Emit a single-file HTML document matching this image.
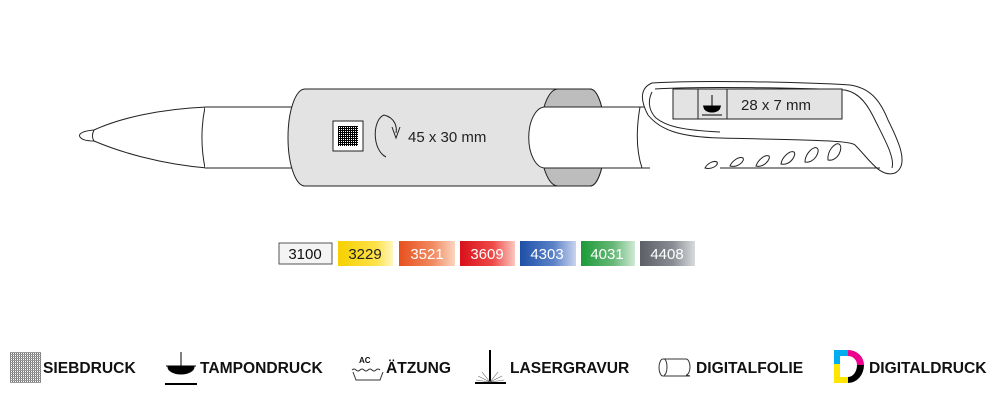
<!DOCTYPE html>
<html><head><meta charset="utf-8"><style>
body{margin:0;background:#fff;width:1000px;height:400px;overflow:hidden;font-family:"Liberation Sans",Arial,sans-serif}
</style></head><body>
<svg width="1000" height="400" viewBox="0 0 1000 400" xmlns="http://www.w3.org/2000/svg">
<defs>
<linearGradient id="gy" x1="0" x2="1"><stop offset="0" stop-color="#f5d000"/><stop offset=".7" stop-color="#ffe24a"/><stop offset="1" stop-color="#fff6c0"/></linearGradient>
<linearGradient id="go" x1="0" x2="1"><stop offset="0" stop-color="#e8501e"/><stop offset=".6" stop-color="#f08a60"/><stop offset="1" stop-color="#fbd5c0"/></linearGradient>
<linearGradient id="gr" x1="0" x2="1"><stop offset="0" stop-color="#d8101a"/><stop offset=".6" stop-color="#ee4a48"/><stop offset="1" stop-color="#fbc8c0"/></linearGradient>
<linearGradient id="gb" x1="0" x2="1"><stop offset="0" stop-color="#1e50a8"/><stop offset=".6" stop-color="#5b82c8"/><stop offset="1" stop-color="#c8d4ee"/></linearGradient>
<linearGradient id="gg" x1="0" x2="1"><stop offset="0" stop-color="#1c9a38"/><stop offset=".6" stop-color="#68b878"/><stop offset="1" stop-color="#d0ead4"/></linearGradient>
<linearGradient id="gs" x1="0" x2="1"><stop offset="0" stop-color="#5c6066"/><stop offset=".6" stop-color="#8a8e94"/><stop offset="1" stop-color="#d8dadc"/></linearGradient>
<pattern id="grid" width="2" height="2" patternUnits="userSpaceOnUse"><rect width="2" height="2" fill="#fff"/><rect width="1" height="2" fill="#000"/><rect width="2" height="1" fill="#000"/></pattern>
<pattern id="grid2" width="2" height="2" patternUnits="userSpaceOnUse"><rect width="2" height="2" fill="#fff"/><rect width="1" height="2" fill="#777"/><rect width="2" height="1" fill="#999"/></pattern>
</defs>
<g stroke="#222" stroke-width="1" fill="#fff">
<path d="M207,107 C160,109 120,118 94,130 C82,131 78,134 80,137 C82,140 88,141 94,141 C120,152 160,164 207,168 Z"/>
<path d="M94,130 C92,134 92,138 94,141" fill="none"/>
<path d="M205,107 C201,127 201,148 205,168" fill="none"/>
<rect x="205" y="107" width="445" height="61" stroke="none"/>
<line x1="205" y1="107" x2="650" y2="107"/><line x1="205" y1="168" x2="650" y2="168"/>
<path d="M652,83 C700,80 800,82 850,85 C870,88 880,100 888,120 C898,140 910,165 895,173 C880,178 870,160 855,145 C850,140 800,140 720,138 C680,137 660,130 648,115 C640,100 640,88 652,83 Z"/>
<path d="M655,89 C700,86 800,88 845,90 C860,93 868,105 876,122 C885,140 895,158 892,168" fill="none"/>
<path d="M652,92 C648,100 648,110 656,118 C666,126 680,130 720,132" fill="none"/>
<path d="M640,107 C636,130 636,150 642,168" fill="none"/>
<line x1="720" y1="168" x2="880" y2="168"/>
</g>
<g stroke="#222" fill="#fff">
<path d="M705,168 c2,-4 8,-8 12,-6 c2,3 -5,8 -12,6z"/>
<path d="M730,166 c2,-5 9,-10 13,-8 c2,3 -5,10 -13,8z"/>
<path d="M756,166 c2,-6 9,-12 13,-10 c2,3 -5,12 -13,10z"/>
<path d="M781,164 c1,-7 9,-14 13,-12 c3,3 -4,14 -13,12z"/>
<path d="M805,162 c0,-8 8,-16 12,-14 c4,3 -3,16 -12,14z"/>
<path d="M828,160 c-1,-9 7,-18 11,-16 c5,3 -1,18 -11,16z"/>
</g>
<rect x="673" y="89" width="169" height="30" fill="#e3e3e3" stroke="#222"/>
<rect x="698" y="89" width="29" height="30" fill="#e3e3e3" stroke="#222"/>
<g stroke="#000" fill="#000"><line x1="712" y1="95" x2="712" y2="106"/><line x1="703" y1="106" x2="721" y2="106"/><path d="M704,107 h16 a8,5 0 0 1 -16,0z"/><line x1="702" y1="115" x2="722" y2="115"/></g>
<text x="741" y="110" font-size="15" fill="#222">28 x 7 mm</text>
<!-- sleeve -->
<path d="M305,89 H590 A15,48.5 0 0 1 590,186 H305 A17,48.5 0 0 1 305,89 Z" fill="#e3e3e3" stroke="#222"/>
<path d="M558,89 A18,48.5 0 0 0 558,186 H590 A15,48.5 0 0 0 590,89 Z" fill="#bdbdbd" stroke="#222"/>
<path d="M545,107 H612 V168 H545 A16,30 0 0 1 545,107 Z" fill="#fff" stroke="none"/>
<path d="M545,107 A16,30 0 0 0 545,168" fill="none" stroke="#222"/>
<line x1="545" y1="107" x2="640" y2="107" stroke="#222"/><line x1="545" y1="168" x2="640" y2="168" stroke="#222"/>
<rect x="333" y="121" width="30" height="30" fill="#fff" stroke="#222"/>
<rect x="338" y="126" width="20" height="20" fill="url(#grid)"/>
<path d="M384,115 C372,120 372,150 386,157" fill="none" stroke="#222"/>
<path d="M384,115 C396,118 397,128 396,133 M392,127 L396,138 L400,127" fill="none" stroke="#222"/>
<text x="408" y="142" font-size="15" fill="#222">45 x 30 mm</text>
<g font-size="15" text-anchor="middle">
<rect x="279" y="243" width="53" height="21" fill="#f4f4f4" stroke="#555"/><text x="305" y="259" fill="#111">3100</text>
<rect x="338" y="241" width="55" height="25" fill="url(#gy)"/><text x="365" y="259" fill="#222">3229</text>
<rect x="399" y="241" width="56" height="25" fill="url(#go)"/><text x="427" y="259" fill="#fff">3521</text>
<rect x="460" y="241" width="55" height="25" fill="url(#gr)"/><text x="487" y="259" fill="#fff">3609</text>
<rect x="520" y="241" width="56" height="25" fill="url(#gb)"/><text x="547" y="259" fill="#fff">4303</text>
<rect x="581" y="241" width="54" height="25" fill="url(#gg)"/><text x="607" y="259" fill="#fff">4031</text>
<rect x="640" y="241" width="55" height="25" fill="url(#gs)"/><text x="667" y="259" fill="#fff">4408</text>
</g>
<g font-size="15.6" font-weight="bold" fill="#111">
<rect x="10" y="352" width="31" height="31" fill="url(#grid2)"/>
<text x="43" y="373">SIEBDRUCK</text>
<g stroke="#000" fill="#000"><line x1="181" y1="352" x2="181" y2="366"/><line x1="166" y1="366" x2="196" y2="366"/><path d="M168,367 h26 a13,7 0 0 1 -26,0z"/><line x1="165" y1="384" x2="197" y2="384" stroke-width="2"/></g>
<text x="200" y="373">TAMPONDRUCK</text>
<text x="359" y="363" font-size="8">AC</text>
<path d="M352,370 q2,-2 4,0 t4,0 t4,0 t4,0 t4,0 t4,0 t4,0 M353,372 l3,8 h24 l3,-8" fill="none" stroke="#333"/>
<text x="386" y="373">ÄTZUNG</text>
<g stroke="#000"><line x1="490" y1="350" x2="490" y2="382" stroke-width="2"/><line x1="475" y1="383" x2="506" y2="383" stroke-width="2"/>
<path d="M490,382 l-12,-6 M490,382 l12,-6 M490,382 l-8,-10 M490,382 l8,-10 M490,382 l-14,-2 M490,382 l14,-2" stroke-width=".6" stroke="#666"/></g>
<text x="510" y="373">LASERGRAVUR</text>
<path d="M663,359 H686 A4,8 0 0 1 686,375 L690,376 H663 A4,8.5 0 0 1 663,359 Z" fill="#fff" stroke="#333"/>
<path d="M664,359 A3,8 0 0 1 664,375" fill="none" stroke="#333"/>
<text x="696" y="373">DIGITALFOLIE</text>
<rect x="834" y="350" width="6" height="14" fill="#00aeef"/><rect x="840" y="350" width="8" height="6" fill="#00aeef"/>
<rect x="834" y="364" width="6" height="19" fill="#ffe600"/><rect x="840" y="377" width="8" height="6" fill="#ffe600"/>
<path d="M848,350 A16,15 0 0 1 864,365 H857 A9,9 0 0 0 848,356 Z" fill="#ec008c"/>
<path d="M864,365 A16,18 0 0 1 848,383 V377 A9,12 0 0 0 857,365 Z" fill="#000"/>
<text x="869" y="373">DIGITALDRUCK</text>
</g>
</svg>
</body></html>
